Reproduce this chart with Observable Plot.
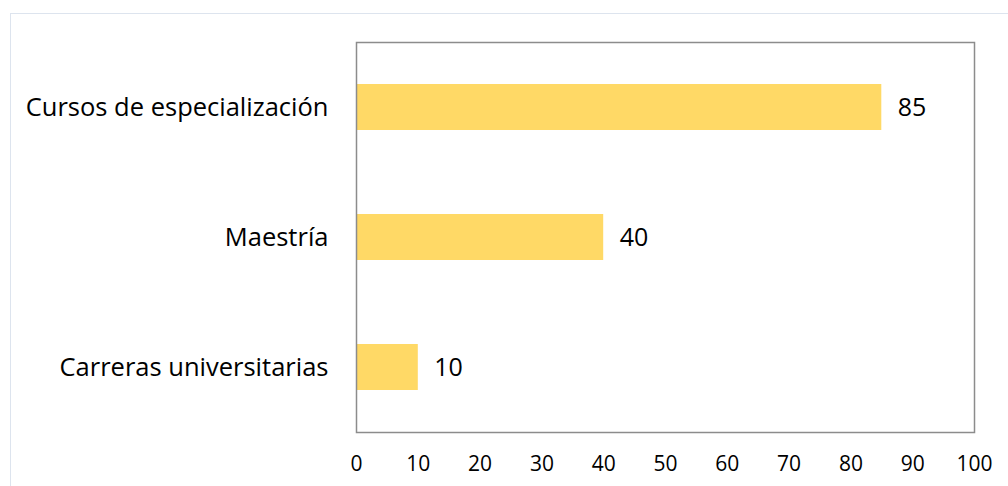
<!DOCTYPE html>
<html>
<head>
<meta charset="utf-8">
<script src="https://cdn.jsdelivr.net/npm/d3@7"></script>
<script src="https://cdn.jsdelivr.net/npm/@observablehq/plot@0.6"></script>
<style>
  html, body { margin: 0; padding: 0; background: #fff; overflow: hidden; }
  #wrap { position: relative; width: 1008px; height: 486px; }
  #border { position: absolute; left: 10px; top: 13px; width: 1100px; height: 600px; border: 1px solid #dde4ee; box-sizing: border-box; }
  #chart { position: absolute; left: 0; top: 0; }
</style>
</head>
<body>
<div id="wrap"><div id="border"></div><div id="chart"></div></div>
<script>
const categories = ["Cursos de especialización", "Maestría", "Carreras universitarias"];
const values = [85, 40, 10];
const xTicks = [0, 10, 20, 30, 40, 50, 60, 70, 80, 90, 100];

const data = categories.map((c, i) => ({category: c, value: values[i]}));
const font = "'Open Sans', sans-serif";

const chart = Plot.plot({
  width: 1008,
  height: 486,
  marginLeft: 356,
  marginRight: 34,
  marginTop: 42,
  marginBottom: 54,
  style: {fontFamily: font, fontSize: "21px", color: "#000", background: "transparent"},
  x: {domain: [0, 100], ticks: xTicks, tickSize: 0, tickPadding: 24, label: null},
  y: {domain: categories, paddingInner: 0.65, paddingOuter: 0.325, tickSize: 0, tickPadding: 28, label: null},
  marks: [
    Plot.barX(data, {x: "value", y: "category", fill: "#FFD966"}),
    Plot.frame({stroke: "#8c8c8c", strokeWidth: 1.5}),
    Plot.text(data, {x: "value", y: "category", text: d => String(d.value), dx: 16, textAnchor: "start", fontSize: 25, fill: "#000"})
  ]
});
chart.querySelectorAll("[aria-label='y-axis tick label'] text").forEach(t => t.setAttribute("font-size", "25.5px"));
document.getElementById("chart").appendChild(chart);
</script>
</body>
</html>
